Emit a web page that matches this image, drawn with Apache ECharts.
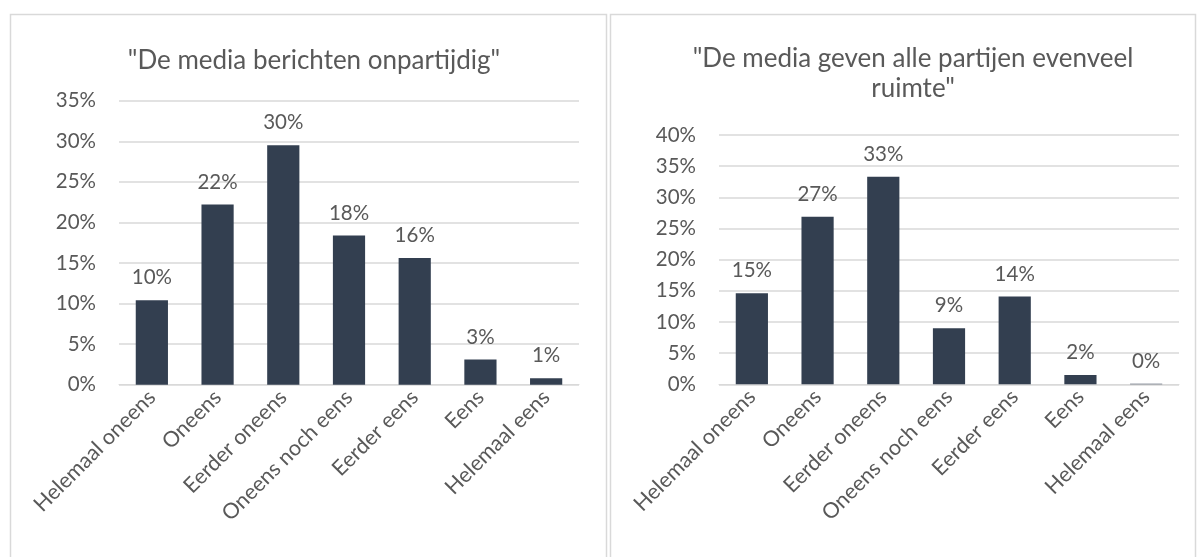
<!DOCTYPE html>
<html>
<head>
<meta charset="utf-8">
<script src="https://cdn.jsdelivr.net/npm/echarts@6/dist/echarts.min.js"></script>
<style>
  html, body { margin: 0; padding: 0; background: #fff; }
  #chart { width: 1203px; height: 557px; }
</style>
</head>
<body>
<div id="chart"></div>
<script>
// categories (same for both panels)
const categories = ['Helemaal oneens', 'Oneens', 'Eerder oneens', 'Oneens noch eens', 'Eerder eens', 'Eens', 'Helemaal eens']

// "De media berichten onpartijdig"
const titleLeft = '"De media berichten onpartijdig"'
const valuesLeft = [10.4, 22.2, 29.5, 18.4, 15.6, 3.1, 0.8]
const ticksLeft = { min: 0, max: 35, interval: 5 }

// "De media geven alle partijen evenveel ruimte"
const titleRight = '"De media geven alle partijen evenveel\nruimte"'
const valuesRight = [14.6, 26.9, 33.3, 9.0, 14.1, 1.5, 0.1]
const ticksRight = { min: 0, max: 40, interval: 5 }

const textColor = '#595959'
const gridColor = '#d9d9d9'
const barColor = '#333f50'
const font = 'Lato, "Open Sans", sans-serif'

function xAxisFor(gridIndex) {
  return {
    type: 'category',
    gridIndex: gridIndex,
    data: categories,
    axisLine: { lineStyle: { color: gridColor, width: 1 } },
    axisTick: { show: false },
    axisLabel: {
      rotate: 45,
      interval: 0,
      margin: 9,
      color: textColor,
      fontSize: 21.5,
      fontFamily: font
    }
  }
}

function yAxisFor(gridIndex, ticks) {
  return {
    type: 'value',
    gridIndex: gridIndex,
    min: ticks.min,
    max: ticks.max,
    interval: ticks.interval,
    axisLine: { show: false },
    axisTick: { show: false },
    splitLine: { lineStyle: { color: gridColor, width: 1.5 } },
    axisLabel: {
      margin: 23,
      color: textColor,
      fontSize: 20.5,
      fontFamily: font,
      formatter: v => v + '%'
    }
  }
}

function seriesFor(index, values) {
  return {
    type: 'bar',
    xAxisIndex: index,
    yAxisIndex: index,
    data: values,
    barWidth: '49%',
    itemStyle: { color: barColor },
    label: {
      show: true,
      position: 'top',
      distance: 12,
      color: textColor,
      fontSize: 20.5,
      fontFamily: font,
      formatter: p => Math.round(p.value) + '%'
    }
  }
}

const chart = echarts.init(document.getElementById('chart'))
const option = {
  backgroundColor: '#fff',
  animation: false,
  title: [
    {
      text: titleLeft,
      left: 309,
      top: 43,
      textAlign: 'center',
      textStyle: { color: textColor, fontSize: 26, fontWeight: 'normal', fontFamily: font }
    },
    {
      text: titleRight,
      left: 908,
      top: 39,
      textAlign: 'center',
      textStyle: { color: textColor, fontSize: 26, fontWeight: 'normal', fontFamily: font, lineHeight: 30 }
    }
  ],
  graphic: [
    {
      type: 'rect',
      shape: { x: 10.5, y: 14.5, width: 596, height: 560 },
      style: { fill: 'none', stroke: gridColor, lineWidth: 1.5 },
      silent: true
    },
    {
      type: 'rect',
      shape: { x: 610.5, y: 14.5, width: 585, height: 560 },
      style: { fill: 'none', stroke: gridColor, lineWidth: 1.5 },
      silent: true
    }
  ],
  grid: [
    { left: 119, top: 100.7, width: 460, height: 284 },
    { left: 719, top: 135, width: 460, height: 249.3 }
  ],
  xAxis: [xAxisFor(0), xAxisFor(1)],
  yAxis: [yAxisFor(0, ticksLeft), yAxisFor(1, ticksRight)],
  series: [seriesFor(0, valuesLeft), seriesFor(1, valuesRight)]
}
chart.setOption(option)
</script>
</body>
</html>
